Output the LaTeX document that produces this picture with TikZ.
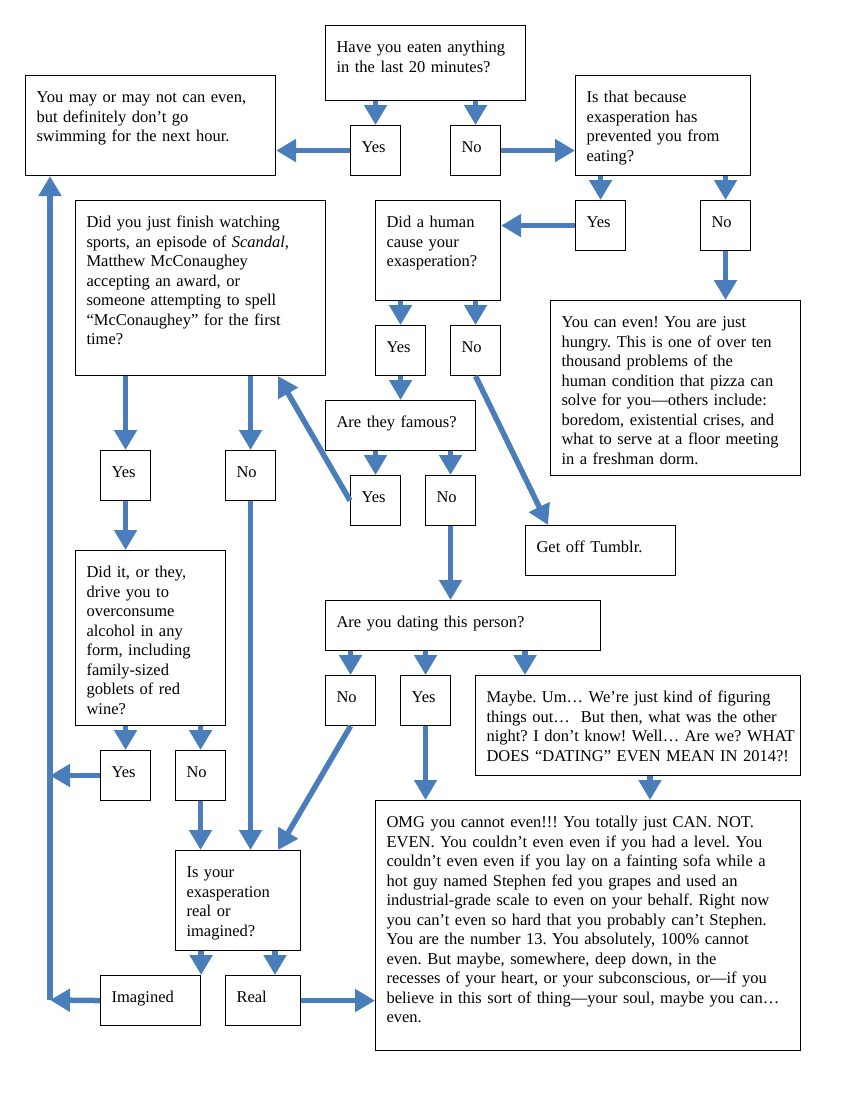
\documentclass[tikz,border=0pt]{standalone}
\usepackage{fontspec}
\setmainfont{Liberation Serif}
\usetikzlibrary{arrows.meta}
\definecolor{flowblue}{RGB}{74,126,187}
\newcommand\rows[1]{\begin{tabular}[t]{@{}l@{}}#1\end{tabular}}

\begin{document}
\begin{tikzpicture}[x=1pt, y=-1pt,
  box/.style 2 args={draw=black, line width=1.1pt, anchor=north west,
    inner xsep=11pt, inner ysep=0pt,
    /utils/exec={\pgfmathsetmacro\boxw{#1-22}\pgfmathsetmacro\boxd{#2-27}},
    text width=\boxw pt, text height=27pt, text depth=\boxd pt,
    font=\fontsize{16.5}{19.5}\selectfont\frenchspacing},
  arr/.style={flowblue, line width=5.5pt, -{Triangle[length=20pt, width=22pt]}}]
\useasboundingbox (0,0) rectangle (850,1100);

% top row
\node[box={200}{75}] (q1) at (325,25) {\rows{Have you eaten anything\\in the last 20 minutes?}};
\node[box={250}{100}] (may) at (25,75) {\rows{You may or may not can even,\\but definitely don't go\\swimming for the next hour.}};
\node[box={50}{50}] (yes1) at (350,125) {Yes};
\node[box={50}{50}] (no1) at (450,125) {No};
\node[box={175}{100}] (q2) at (575,75) {\rows{Is that because\\exasperation has\\prevented you from\\eating?}};

% middle
\node[box={50}{50}] (yes2) at (575,200) {Yes};
\node[box={50}{50}] (no2) at (700,200) {No};
\node[box={125}{100}] (human) at (375,200) {\rows{Did a human\\cause your\\exasperation?}};
\node[box={250}{175}] (hungry) at (550,300) {\rows{You can even! You are just\\hungry. This is one of over ten\\thousand problems of the\\human condition that pizza can\\solve for you---others include:\\boredom, existential crises, and\\what to serve at a floor meeting\\in a freshman dorm.}};
\node[box={250}{175}] (sports) at (75,200) {\rows{Did you just finish watching\\sports, an episode of \textit{Scandal},\\Matthew McConaughey\\accepting an award, or\\someone attempting to spell\\``McConaughey'' for the first\\time?}};
\node[box={50}{50}] (yes3) at (375,325) {Yes};
\node[box={50}{50}] (no3) at (450,325) {No};
\node[box={150}{50}] (famous) at (325,400) {Are they famous?};
\node[box={50}{50}] (yes4) at (350,475) {Yes};
\node[box={50}{50}] (no4) at (425,475) {No};
\node[box={150}{50}] (tumblr) at (525,525) {Get off Tumblr.};
\node[box={50}{50}] (yes5) at (100,450) {Yes};
\node[box={50}{50}] (no5) at (225,450) {No};
\node[box={150}{175}] (alcohol) at (75,550) {\rows{Did it, or they,\\drive you to\\overconsume\\alcohol in any\\form, including\\family-sized\\goblets of red\\wine?}};
\node[box={275}{50}] (dating) at (325,600) {Are you dating this person?};
\node[box={50}{50}] (no6) at (325,675) {No};
\node[box={50}{50}] (yes6) at (400,675) {Yes};
\node[box={325}{100}] (maybe) at (475,675) {\rows{Maybe. Um… We're just kind of figuring\\things out…\ \ But then, what was the other\\night? I don't know! Well… Are we? WHAT\\DOES ``DATING'' EVEN MEAN IN 2014?!}};
\node[box={50}{50}] (yes7) at (100,750) {Yes};
\node[box={50}{50}] (no7) at (175,750) {No};

% bottom
\node[box={425}{250}] (omg) at (375,800) {\rows{OMG you cannot even!!! You totally just CAN. NOT.\\EVEN. You couldn't even even if you had a level. You\\couldn't even even if you lay on a fainting sofa while a\\hot guy named Stephen fed you grapes and used an\\industrial-grade scale to even on your behalf. Right now\\you can't even so hard that you probably can't Stephen.\\You are the number 13. You absolutely, 100\% cannot\\even. But maybe, somewhere, deep down, in the\\recesses of your heart, or your subconscious, or---if you\\believe in this sort of thing---your soul, maybe you can…\\even.}};
\node[box={125}{100}] (realq) at (175,850) {\rows{Is your\\exasperation\\real or\\imagined?}};
\node[box={100}{50}] (imagined) at (100,975) {Imagined};
\node[box={75}{50}] (real) at (225,975) {Real};

\coordinate (railbot) at (50,1000);
\coordinate (tumbin) at ([xshift=23pt]tumblr.north west);
\coordinate (sportsin) at ([xshift=-48pt]sports.south east);
\coordinate (realqin) at ([xshift=-23pt]realq.north east);
\coordinate (maybein) at ([xshift=50pt]maybe.north west);
\coordinate (maybeout) at ([xshift=175pt]maybe.south west);
\coordinate (realin) at ([xshift=50pt]real.north west);

% short drops from a question to its answers
\foreach \a/\b in {q1/yes1, q1/no1, q2/yes2, q2/no2, human/yes3, human/no3,
  famous/yes4, famous/no4, sports/yes5, sports/no5, alcohol/yes7, alcohol/no7,
  dating/no6, dating/yes6} {
  \draw[arr] (\a.south -| \b.north) -- (\b.north);
}
\foreach \a/\b in {no2/hungry, yes3/famous, no4/dating, yes5/alcohol,
  no5/realq, no7/realq, yes6/omg} {
  \draw[arr] (\a.south) -- (\b.north -| \a.south);
}
\draw[arr] (maybeout) -- (omg.north -| maybeout);
\draw[arr] (dating.south -| maybein) -- (maybein);
\draw[arr] (realq.south -| imagined.north east) -- (imagined.north east);
\draw[arr] (realq.south -| realin) -- (realin);

% sideways
\draw[arr] (yes1.west) -- (may.east |- yes1.west);
\draw[arr] (no1.east) -- (q2.west |- no1.east);
\draw[arr] (yes2.west) -- (human.east |- yes2.west);
\draw[arr] (real.east) -- (omg.west |- real.east);
\draw[arr] (no3.south) -- (tumbin);
\draw[arr] (yes4.west) -- (sportsin);
\draw[arr] (no6.south) -- (realqin);

% back up the left side
\draw[arr] (yes7.west) -- (railbot |- yes7.west);
\draw[arr] (imagined.west) -- (railbot);
\draw[arr] (railbot) -- (railbot |- may.south);
\end{tikzpicture}
\end{document}
